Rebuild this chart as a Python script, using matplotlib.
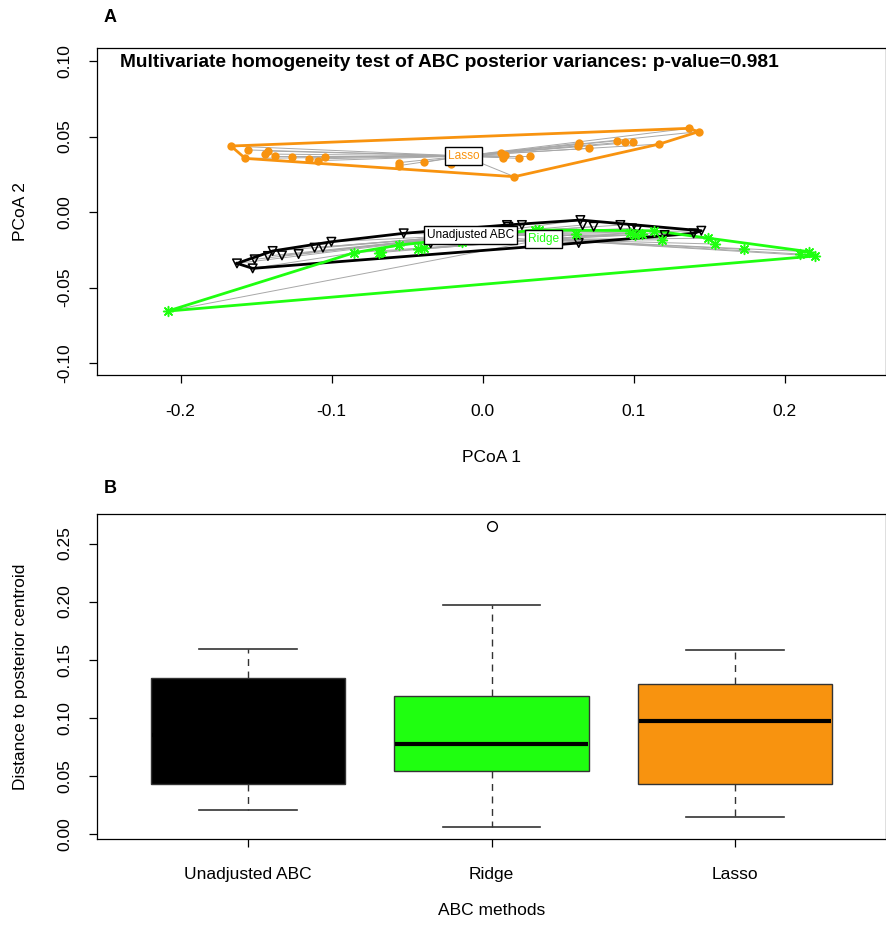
import matplotlib.pyplot as plt
import numpy as np

plt.rcParams['font.family'] = ['Liberation Sans', 'DejaVu Sans']

# panel A: PCoA scores
unadj_x = [-0.1627, -0.1523, -0.1510, -0.1422, -0.1391, -0.1329, -0.1219, -0.1113, -0.1058, -0.1002,
           -0.0523, -0.0344, 0.0161, 0.0260, 0.0662, 0.0735, 0.0647, 0.0912, 0.0989, 0.1022,
           0.1205, 0.1397, 0.1448, 0.0170, 0.0636]
unadj_y = [-0.0340, -0.0373, -0.0313, -0.0291, -0.0258, -0.0287, -0.0278, -0.0236, -0.0236, -0.0197,
           -0.0141, -0.0207, -0.0086, -0.0086, -0.0086, -0.0097, -0.0053, -0.0086, -0.0108, -0.0119,
           -0.0152, -0.0141, -0.0124, -0.0097, -0.0205]
ridge_x = [-0.2086, -0.0850, -0.0689, -0.0556, -0.0428, -0.0391, -0.0671, -0.0140, 0.0349, 0.0371,
           0.0618, 0.0978, 0.1011, 0.1055, 0.1132, 0.1188, 0.1492, 0.1536, 0.1728, 0.2104,
           0.2163, 0.2203]
ridge_y = [-0.0656, -0.0269, -0.0269, -0.0219, -0.0247, -0.0240, -0.0262, -0.0200, -0.0119, -0.0119,
           -0.0146, -0.0141, -0.0152, -0.0146, -0.0124, -0.0185, -0.0174, -0.0212, -0.0247, -0.0278,
           -0.0263, -0.0291]
lasso_x = [-0.1667, -0.1554, -0.1572, -0.1444, -0.1422, -0.1377, -0.1263, -0.1148, -0.1091, -0.1042,
           -0.0556, -0.0556, -0.0386, -0.0207, 0.0121, 0.0132, 0.0146, 0.0243, 0.0316, 0.0210,
           0.0636, 0.0631, 0.0707, 0.0892, 0.0945, 0.0993, 0.1170, 0.1364, 0.1430]
lasso_y = [0.0437, 0.0411, 0.0355, 0.0384, 0.0404, 0.0371, 0.0366, 0.0351, 0.0340, 0.0366,
           0.0327, 0.0307, 0.0329, 0.0318, 0.0389, 0.0360, 0.0377, 0.0355, 0.0371, 0.0234,
           0.0455, 0.0437, 0.0422, 0.0472, 0.0464, 0.0461, 0.0450, 0.0554, 0.0532]
centroid_x = [-0.0079, 0.0400, -0.0126]
centroid_y = [-0.0152, -0.0181, 0.0371]

# panel B: box statistics
methods = ["Unadjusted ABC", "Ridge", "Lasso"]
whislo = [0.021, 0.006, 0.015]
q1 = [0.043, 0.054, 0.043]
med = [0.085, 0.0776, 0.0974]
q3 = [0.134, 0.119, 0.129]
whishi = [0.159, 0.197, 0.158]
outliers = [[], [0.265], []]

col_black = 'black'
col_green = '#1FFF10'
col_orange = '#F8930F'


def hull(xs, ys):
    pts = sorted(set(zip(xs, ys)))
    def cross(o, a, b):
        return (a[0]-o[0])*(b[1]-o[1]) - (a[1]-o[1])*(b[0]-o[0])
    lower = []
    for p in pts:
        while len(lower) >= 2 and cross(lower[-2], lower[-1], p) <= 0:
            lower.pop()
        lower.append(p)
    upper = []
    for p in reversed(pts):
        while len(upper) >= 2 and cross(upper[-2], upper[-1], p) <= 0:
            upper.pop()
        upper.append(p)
    h = lower[:-1] + upper[:-1]
    h.append(h[0])
    return np.array(h)


fig = plt.figure(figsize=(8.86, 9.31), dpi=100)
bold_fam = ['Liberation Sans Narrow', 'Liberation Sans', 'DejaVu Sans']

# ---------------- A ----------------
ax = fig.add_axes([97/886, 1-375/931, 789/886, 327/931])
groups = [(unadj_x, unadj_y, col_black, 'v', "Unadjusted ABC"),
          (ridge_x, ridge_y, col_green, (8, 2, 0), "Ridge"),
          (lasso_x, lasso_y, col_orange, 'o', "Lasso")]

for i, (gx, gy, c, m, lab) in enumerate(groups):
    for px, py in zip(gx, gy):
        ax.plot([px, centroid_x[i]], [py, centroid_y[i]], color='#A8A8A8', lw=0.7, zorder=1)
for i, (gx, gy, c, m, lab) in enumerate(groups):
    h = hull(gx, gy)
    ax.plot(h[:, 0], h[:, 1], color=c, lw=2, zorder=2)
for i, (gx, gy, c, m, lab) in enumerate(groups):
    if m == 'v':
        ax.scatter(gx, gy, marker='v', s=38, facecolors='none', edgecolors=c, linewidths=1.1, zorder=3)
    elif m == 'o':
        ax.scatter(gx, gy, marker='o', s=36, color=c, linewidths=0, zorder=3)
    else:
        ax.scatter(gx, gy, marker=m, s=50, color=c, linewidths=1.1, zorder=3)
for i, (gx, gy, c, m, lab) in enumerate(groups):
    ax.text(centroid_x[i], centroid_y[i], lab, color=c, fontsize=8.6, ha='center', va='center', zorder=5,
            bbox=dict(boxstyle='square,pad=0.25', fc='white', ec='black', lw=1))

ax.set_xlim(-0.2554, 0.2671)
ax.set_ylim(-0.1079, 0.1086)
ax.set_xticks([-0.2, -0.1, 0.0, 0.1, 0.2])
ax.set_xticklabels(["-0.2", "-0.1", "0.0", "0.1", "0.2"])
ax.set_yticks([-0.10, -0.05, 0.0, 0.05, 0.10])
ax.set_yticklabels(["-0.10", "-0.05", "0.00", "0.05", "0.10"], rotation=90, va='center')
ax.tick_params(axis='x', direction='out', length=6, width=0.9, labelsize=12.5, pad=15)
ax.tick_params(axis='y', direction='out', length=6, width=0.9, labelsize=12.5, pad=12)
for s in ax.spines.values():
    s.set_linewidth(0.9)
ax.set_xlabel("PCoA 1", fontsize=12.5, labelpad=22)
ax.set_ylabel("PCoA 2", fontsize=12.5, labelpad=21)
ax.text(0.029, 0.957, "Multivariate homogeneity test of ABC posterior variances: p-value=0.981",
        transform=ax.transAxes, ha='left', va='center', fontsize=13.8, fontweight='bold',
        family=bold_fam)
fig.text(104/886, 1-17/931, "A", ha='left', va='center', fontsize=13, fontweight='bold',
         family=bold_fam)

# ---------------- B ----------------
bx = fig.add_axes([97/886, 1-839/931, 789/886, 325/931])
stats = []
for i in range(len(methods)):
    stats.append(dict(whislo=whislo[i], q1=q1[i], med=med[i], q3=q3[i], whishi=whishi[i],
                      fliers=outliers[i], label=methods[i]))
fills = [col_black, col_green, col_orange]
bp = bx.bxp(stats, positions=[1, 2, 3], widths=0.8, capwidths=0.4, patch_artist=True,
            boxprops=dict(edgecolor='#333333', linewidth=1.0),
            medianprops=dict(color='black', linewidth=3, solid_capstyle='butt'),
            whiskerprops=dict(color='#333333', linestyle=(0, (5, 4)), linewidth=1.0),
            capprops=dict(color='#333333', linewidth=1.2),
            flierprops=dict(marker='o', markerfacecolor='none', markeredgecolor='black',
                            markersize=7, markeredgewidth=1.0))
for patch, f in zip(bp['boxes'], fills):
    patch.set_facecolor(f)
for line in bp['medians']:
    x0, x1 = line.get_xdata()
    line.set_xdata([x0 + 0.004, x1 - 0.004])
bx.set_xlim(0.38, 3.62)
bx.set_ylim(-0.0043, 0.2754)
bx.set_yticks([0.0, 0.05, 0.10, 0.15, 0.20, 0.25])
bx.set_yticklabels(["0.00", "0.05", "0.10", "0.15", "0.20", "0.25"], rotation=90, va='center')
bx.set_xticks([1, 2, 3])
bx.set_xticklabels(methods)
bx.tick_params(axis='x', direction='out', length=6, width=0.9, labelsize=12.5, pad=14)
bx.tick_params(axis='y', direction='out', length=6, width=0.9, labelsize=12.5, pad=12)
for s in bx.spines.values():
    s.set_linewidth(0.9)
bx.set_xlabel("ABC methods", fontsize=12.5, labelpad=15)
bx.set_ylabel("Distance to posterior centroid", fontsize=12.5, labelpad=21)
fig.text(104/886, 1-488/931, "B", ha='left', va='center', fontsize=13, fontweight='bold',
         family=bold_fam)

fig.savefig("out.png", dpi=100)
